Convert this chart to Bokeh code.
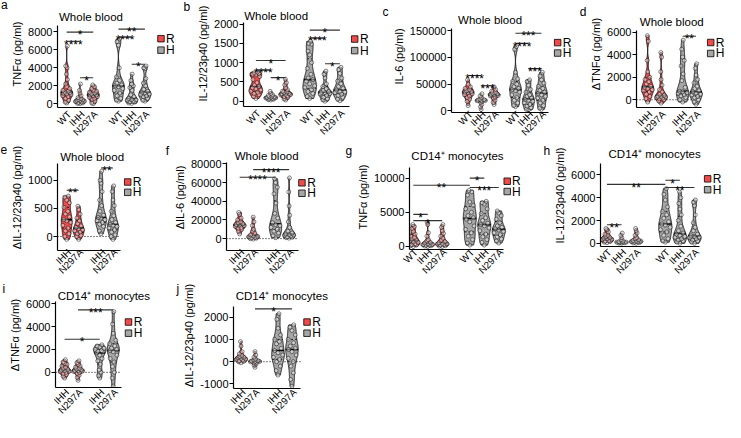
import numpy as np
from bokeh.plotting import figure
from bokeh.models import Range1d, FixedTicker, NumeralTickFormatter, CustomJSTickFormatter
from bokeh.layouts import row, column
from bokeh.core.properties import value
from bokeh.embed import file_html
from bokeh.resources import INLINE

# ------------------------------------------------------------------ data
groups = ["R", "H"]
wt_cats = ["WT", "IHH", "N297A", "WT", "IHH", "N297A"]
wt_grps = ["R", "R", "R", "H", "H", "H"]
delta_cats = ["IHH", "N297A", "IHH", "N297A"]
delta_grps = ["R", "R", "H", "H"]

# a: TNFa, whole blood
a_R_WT = [6400, 4200, 4000, 3300, 2700, 2200, 1900, 1700, 1500, 1400, 1300, 1250, 1200, 1100, 1000, 900, 800, 600, 400, 200, 100]
a_R_IHH = [2200, 1500, 1200, 900, 700, 600, 500, 450, 400, 350, 300, 250, 200, 150, 100, 50, 20]
a_R_N297A = [2100, 1900, 1700, 1500, 1400, 1300, 1200, 1100, 1000, 1000, 900, 800, 700, 600, 500, 300, 100, 20]
a_H_WT = [7200, 6900, 6500, 4000, 3000, 2600, 2300, 2100, 2000, 1900, 1700, 1500, 1200, 900, 600, 400, 300]
a_H_IHH = [3300, 2600, 2200, 2000, 1800, 1500, 1000, 800, 600, 500, 450, 400, 300, 250, 200, 100, 50]
a_H_N297A = [4200, 4000, 3900, 2800, 2300, 2000, 1600, 1400, 1300, 1200, 1100, 1000, 900, 800, 600, 400, 300]
a_ticks = [0, 2000, 4000, 6000, 8000]
a_sig = [(0, 2, 7950, "*"), (0, 1, 6940, "****"), (1, 2, 2890, "*"),
         (3, 5, 8285, "**"), (3, 4, 7400, "****"), (4, 5, 4400, "*")]

# b: IL-12/23p40, whole blood
b_R_WT = [755, 740, 720, 700, 680, 640, 560, 480, 420, 380, 350, 320, 290, 260, 230, 200, 170, 120, 70]
b_R_IHH = [255, 200, 170, 150, 130, 120, 110, 100, 95, 90, 80, 70, 60, 50, 40, 30]
b_R_N297A = [570, 480, 420, 350, 300, 260, 240, 220, 200, 190, 180, 170, 160, 140, 120, 100, 60, 30]
b_H_WT = [1555, 1500, 1480, 1300, 1200, 1000, 850, 700, 600, 560, 520, 450, 400, 350, 300, 250, 200, 120, 70]
b_H_IHH = [780, 700, 600, 450, 380, 320, 280, 250, 230, 220, 200, 180, 150, 100, 60, 30, 0]
b_H_N297A = [880, 820, 720, 600, 520, 450, 380, 330, 290, 260, 240, 220, 180, 150, 100, 50, 10]
b_ticks = [0, 500, 1000, 1500, 2000]
b_sig = [(0, 2, 1055, "*"), (0, 1, 805, "****"), (1, 2, 612, "*"),
         (3, 5, 1845, "*"), (3, 4, 1637, "****"), (4, 5, 970, "*")]

# c: IL-6, whole blood
c_R_WT = [58000, 50000, 45000, 42000, 40000, 38000, 36000, 35000, 34000, 32000, 30000, 28000, 25000, 22000, 18000, 10000]
c_R_IHH = [32000, 28000, 25000, 22000, 21000, 20500, 20000, 19500, 19000, 18000, 16000, 12000, 8000, 3000]
c_R_N297A = [45000, 40000, 37000, 35000, 33000, 32000, 31000, 30000, 29000, 28000, 26000, 24000, 20000, 16000, 12000]
c_H_WT = [120000, 115000, 72000, 60000, 55000, 50000, 45000, 42000, 40000, 38000, 35000, 30000, 25000, 20000, 15000, 10000, 8000]
c_H_IHH = [58000, 55000, 48000, 40000, 35000, 30000, 27000, 24000, 22000, 20000, 18000, 15000, 12000, 9000, 6000, 3000, 2000]
c_H_N297A = [72000, 65000, 58000, 52000, 46000, 42000, 38000, 35000, 33000, 30000, 27000, 24000, 20000, 15000, 10000, 5000, 3000]
c_ticks = [0, 50000, 100000, 150000]
c_sig = [(0, 1, 66000, "****"), (1, 2, 47000, "***"),
         (3, 5, 145000, "***"), (3, 4, 126000, "****"), (4, 5, 79000, "***")]

# d: delta TNFa, whole blood
d_R_IHH = [5700, 5200, 3500, 2500, 2000, 1800, 1600, 1400, 1200, 1100, 1000, 900, 800, 700, 500, 300, 100, -200]
d_R_N297A = [4200, 3800, 2500, 1800, 1300, 900, 700, 500, 400, 320, 300, 250, 200, 150, 100, 0, -100, -300]
d_H_IHH = [5300, 4500, 3800, 3500, 3000, 2300, 1700, 1100, 750, 700, 650, 550, 450, 350, 200, 0, -200]
d_H_N297A = [3200, 2800, 2200, 1800, 1500, 1200, 1000, 800, 700, 600, 500, 400, 300, 200, 0, -200, -400]
d_ticks = [0, 2000, 4000, 6000]
d_sig = [(2, 3, 5650, "**")]

# e: delta IL-12/23p40, whole blood
e_R_IHH = [720, 700, 650, 600, 520, 450, 400, 350, 300, 280, 250, 200, 150, 100, 50, 0, -50]
e_R_N297A = [540, 480, 400, 330, 280, 230, 190, 160, 140, 120, 100, 80, 50, 20, 0, -50]
e_H_IHH = [1160, 1000, 950, 800, 650, 550, 450, 380, 340, 330, 300, 280, 250, 220, 180, 100, 50]
e_H_N297A = [900, 800, 650, 550, 450, 370, 300, 250, 220, 200, 180, 150, 120, 80, 30, 0, -50]
e_ticks = [0, 500, 1000]
e_sig = [(0, 1, 824, "**"), (2, 3, 1220, "**")]

# f: delta IL-6, whole blood
f_R_IHH = [28000, 26000, 22000, 20000, 18000, 17000, 16000, 15000, 14500, 14000, 13000, 12000, 11000, 10000, 8000, 5000]
f_R_N297A = [23000, 18000, 14000, 10000, 8000, 6000, 4000, 3000, 2500, 2000, 1500, 1000, 500, 0, -500]
f_H_IHH = [64000, 60000, 55000, 48000, 38000, 27000, 22000, 17000, 15000, 14000, 12000, 10000, 8000, 6000, 3000, 1000]
f_H_N297A = [65000, 50000, 35000, 25000, 18000, 12000, 8000, 6000, 5000, 4500, 4000, 3500, 3000, 2000, 1500, 1000, 500]
f_ticks = [0, 20000, 40000, 60000, 80000]
f_sig = [(0, 2, 65800, "****"), (1, 3, 73900, "****")]

# g: TNFa, CD14+ monocytes
g_R_WT = [3200, 2900, 2600, 2200, 1800, 1500, 1300, 1100, 950, 800, 700, 600, 500, 400, 300, 200, 100, 0]
g_R_IHH = [3550, 3200, 2000, 1500, 1000, 800, 600, 500, 400, 320, 250, 200, 150, 100, 50, 0]
g_R_N297A = [3200, 2800, 2300, 1900, 1500, 1200, 900, 700, 550, 450, 400, 350, 300, 200, 100, 50, 0]
g_H_WT = [8200, 8000, 7500, 6500, 6000, 5500, 5000, 4500, 4200, 4000, 3600, 3000, 2500, 2000, 1500, 1000, 500, 200]
g_H_IHH = [6600, 6400, 6200, 5500, 4800, 4200, 3800, 3400, 3200, 3000, 2700, 2300, 1800, 1400, 1000, 600, 200]
g_H_N297A = [5200, 4900, 4500, 4000, 3500, 3000, 2800, 2600, 2400, 2200, 2000, 1700, 1400, 1100, 800, 500]
g_ticks = [0, 5000, 10000]
g_sig = [(0, 3, 8950, "**"), (3, 4, 10000, "*"), (3, 5, 8630, "***"),
         (0, 1, 4700, "*"), (0, 2, 3780, "*")]

# h: IL-12/23p40, CD14+ monocytes
h_R_WT = [1300, 1200, 1000, 800, 700, 600, 500, 450, 400, 350, 300, 250, 200, 150, 100, 50]
h_R_IHH = [900, 700, 500, 300, 200, 150, 120, 100, 90, 80, 60, 40, 20, 0]
h_R_N297A = [1300, 1100, 900, 700, 500, 400, 300, 250, 200, 180, 150, 120, 100, 60, 30, 0]
h_H_WT = [4800, 4300, 3800, 3200, 2800, 2500, 2200, 1900, 1700, 1600, 1400, 1200, 1000, 700, 400, 200, 100]
h_H_IHH = [4500, 4000, 3500, 3000, 2500, 2000, 1500, 1100, 900, 800, 700, 600, 500, 400, 300, 200, 100, 0]
h_H_N297A = [3800, 3600, 3300, 2500, 1800, 1400, 1100, 800, 650, 600, 550, 500, 400, 300, 200, 100, 0]
h_ticks = [0, 2000, 4000, 6000]
h_sig = [(0, 3, 5170, "**"), (3, 4, 5530, "*"), (3, 5, 4900, "**"), (0, 1, 1630, "**")]

# i: delta TNFa, CD14+ monocytes
i_R_IHH = [1100, 900, 800, 700, 550, 450, 350, 250, 200, 150, 100, 50, 0, -100, -200, -350, -500]
i_R_N297A = [1000, 850, 700, 550, 450, 350, 280, 220, 180, 150, 100, 50, 0, -100, -250, -450, -700]
i_H_IHH = [2400, 2300, 2200, 2100, 2000, 1900, 1850, 1800, 1700, 1500, 1200, 1000, 700, 200, 0, -300, -500]
i_H_N297A = [5300, 4200, 3400, 2800, 2500, 2300, 2100, 2000, 1900, 1800, 1500, 1200, 900, 500, 0, -500, -1200]
i_ticks = [0, 2000, 4000, 6000]
i_sig = [(0, 2, 2890, "*"), (1, 3, 5450, "***")]

# j: delta IL-12/23p40, CD14+ monocytes
j_R_IHH = [900, 700, 450, 350, 280, 230, 200, 180, 150, 120, 100, 80, 50, 20, 0, -50]
j_R_N297A = [450, 300, 200, 120, 80, 50, 30, 20, 10, 0, -20, -50, -100, -150, -250]
j_H_IHH = [2150, 1900, 1500, 1200, 1000, 900, 800, 600, 500, 400, 300, 200, 100, 0, -200, -400, -600]
j_H_N297A = [1650, 1550, 1400, 1200, 1000, 850, 700, 600, 550, 450, 300, 150, 0, -200, -500, -800, -1100]
j_ticks = [-1000, 0, 1000, 2000]
j_sig = [(1, 3, 2370, "*")]

title_wb = "Whole blood"
title_mono = "CD14\u207a monocytes"

# ------------------------------------------------------------------ layout (reference pixel geometry)
SX = 725 / 741
SY = 422 / 438
FONT = "Liberation Sans"
COLORS = {"R": "#EF4B4B", "H": "#A6A6A6"}
R1, R2, R3 = (0, 149), (149, 292.5), (292.5, 438)
LABDX = 3         # category label end sits this far right of the category (ref px)

LAYOUT = {
    "a": dict(box=(0, 185) + R1, yax=52, xax=111.7, cal=(108.3, 0, 32.7, 8000), ytop=26,
              x0=62, dx=14.2, pos=[0, 1, 2, 3.9, 4.9, 5.9], xend=153,
              letter=(0.5, 6.7, 6.8), title=(88, 17), legend=(163, 40, 52)),
    "b": dict(box=(185, 390) + R1, yax=248.3, xax=110, cal=(104.5, 0, 24.5, 2000), ytop=23,
              x0=261, dx=15.2, pos=[0, 1, 2, 3.62, 4.65, 5.65], xend=356.7,
              letter=(187, 9, 6.8), title=(281.7, 16), legend=(362, 40, 52)),
    "c": dict(box=(390, 590) + R1, yax=451.7, xax=118.7, cal=(116.7, 0, 31.7, 150000), ytop=29.3,
              x0=470, dx=14.2, pos=[0, 1, 2, 3.65, 4.65, 5.65], xend=558,
              letter=(390.5, 15, 6.2), title=(494, 20.7), legend=(568, 44.5, 55.5)),
    "d": dict(box=(590, 741) + R1, yax=645, xax=111.7, cal=(104, 0, 33.3, 6000), ytop=31,
              x0=657, dx=14.5, pos=[0, 1, 2.6, 3.6], xend=715,
              letter=(592, 16.7, 6.8), title=(683, 22.7), legend=(725, 44, 55.5)),
    "e": dict(box=(0, 168) + R2, yax=48.3, xax=262.3, cal=(247.7, 0, 187.7, 1000), ytop=170,
              x0=58.3, dx=13.4, pos=[0, 1, 2.86, 3.86], xend=118.3,
              letter=(0, 156, 6.8), title=(86.7, 163.3), legend=(126.5, 189.5, 200.5)),
    "f": dict(box=(168, 352) + R2, yax=228.3, xax=261.7, cal=(249, 0, 170, 80000), ytop=168.3,
              x0=241.7, dx=14.2, pos=[0, 1, 2.65, 3.65], xend=303.3,
              letter=(169, 158, 3.6), title=(270, 161.7), legend=(307, 190, 201)),
    "g": dict(box=(352, 552) + R2, yax=402.3, xax=260, cal=(257.3, 0, 185, 10000), ytop=173.3,
              x0=407, dx=16.5, pos=[0, 1, 2, 3.9, 4.9, 5.9], xend=510,
              letter=(352.5, 158.5, 6.8), title=(457.3, 161.7), legend=(514, 188.3, 199.2)),
    "h": dict(box=(552, 741) + R2, yax=608.3, xax=257.7, cal=(254, 0, 181.7, 6000), ytop=170,
              x0=615, dx=15.5, pos=[0, 1, 2, 4, 5, 6], xend=713.3,
              letter=(555, 158, 6.8), title=(665.7, 160), legend=(722, 185.8, 197.3)),
    "i": dict(box=(0, 175) + R3, yax=51.7, xax=403.3, cal=(387.7, 0, 315, 6000), ytop=313.3,
              x0=61.7, dx=14.3, pos=[0, 1, 2.6, 3.6], xend=121.7,
              letter=(2, 301.5, 2.9), title=(103.3, 307.3), legend=(129.3, 334.5, 346.3)),
    "j": dict(box=(175, 400) + R3, yax=231.7, xax=405, cal=(329.3, 2000, 400, -1000), ytop=318.3,
              x0=240, dx=14.8, pos=[0, 1, 2.65, 3.65], xend=303.3,
              letter=(180, 301.5, 2.9), title=(283.3, 306.7), legend=(310, 334.5, 346.3)),
}


def ex(r):
    return round(r * SX)


def ey(r):
    return round(r * SY)


def bare_fig(W, H, xr, yr):
    f = figure(width=W, height=H, x_range=xr, y_range=yr, output_backend="svg",
               toolbar_location=None, tools="", x_axis_location=None, y_axis_location=None,
               min_border_left=0, min_border_right=0, min_border_top=0, min_border_bottom=0)
    f.outline_line_color = None
    f.grid.visible = False
    f.background_fill_color = "white"
    f.border_fill_color = "white"
    return f


def txt(fig, x, y, t, size, **kw):
    fig.text(x=x, y=y, text=t, text_font=value(FONT), text_font_size=value(size),
             text_color="black", **kw)


def violin_shape(vals, pos, w=0.45, bwf=0.75, n=120):
    v = np.sort(np.asarray(vals, float))
    lo, hi = v[0], v[-1]
    s = v.std(ddof=1)
    q1, q3 = np.percentile(v, [25, 75])
    sig = min(s, (q3 - q1) / 1.34) if q3 > q1 else s
    h = max(bwf * 0.9 * sig * len(v) ** -0.2, (hi - lo) * 0.03)
    ys = np.linspace(lo, hi, n)
    d = np.exp(-0.5 * ((ys[:, None] - v[None, :]) / h) ** 2).sum(1)
    half = w * d / d.max()
    xs = np.concatenate([pos - half, (pos + half)[::-1]])
    yy = np.concatenate([ys, ys[::-1]])
    return xs, yy, ys, half


def make_panel(key, letter, cats, grps, series, ticks, sig, ylabel, title, zero=False):
    L = LAYOUT[key]
    bl, br, bt, bb = L["box"]
    lx, ly, lw = L["letter"]
    sl = lx + lw + 1.0             # right edge of the strip that holds the panel letter
    yA, vA, yB, vB = L["cal"]
    kpx = (yA - yB) / (vB - vA)
    x0, dx = L["x0"], L["dx"]
    pos = L["pos"]

    def X(rx):
        return (rx - x0) / dx

    def Y(ry):
        return vA + (yA - ry) / kpx

    H = ey(bb) - ey(bt)
    # ---- left strip: panel letter
    ls = bare_fig(ex(sl) - ex(bl), H,
                  Range1d(ex(bl) / SX, ex(sl) / SX), Range1d(-ey(bb) / SY, -ey(bt) / SY))
    txt(ls, [lx], [-ly], [letter], "12px", text_align="left", text_baseline="alphabetic")

    # ---- main plot
    fb = ey(L["xax"]) - ey(bt)
    W = ex(br) - ex(sl)
    lb = ex(L["yax"]) - ex(sl)
    xs, xe = X(ex(L["yax"]) / SX), X(ex(br) / SX)
    ys, ye = Y(ey(L["xax"]) / SY), Y(ey(bt) / SY)
    p = figure(width=W, height=H, x_range=Range1d(xs, xe), y_range=Range1d(ys, ye),
               output_backend="svg", toolbar_location=None, tools="",
               min_border_left=lb, min_border_right=0, min_border_top=0, min_border_bottom=H - fb)
    p.outline_line_color = None
    p.xgrid.visible = False
    p.ygrid.visible = False
    p.background_fill_color = "white"
    p.border_fill_color = "white"

    ya = p.yaxis[0]
    ya.ticker = FixedTicker(ticks=ticks)
    ya.formatter = NumeralTickFormatter(format="0")
    ya.bounds = (ys, Y(L["ytop"]))
    ya.major_tick_out = 4
    ya.major_tick_in = 0
    ya.minor_tick_out = 0
    ya.minor_tick_in = 0
    ya.major_label_standoff = 1
    ya.major_label_text_font = FONT
    ya.major_label_text_font_size = "11px"
    ya.major_label_text_color = "black"
    ya.axis_line_width = 1.2
    ya.major_tick_line_width = 1.2
    ya.axis_line_color = "black"
    ya.axis_label = ylabel
    ya.axis_label_text_font = FONT
    ya.axis_label_text_font_size = "11px"
    ya.axis_label_text_font_style = "normal"
    ya.axis_label_text_color = "black"
    ya.axis_label_standoff = 2

    # x axis: rotated category names as the axis' own tick labels
    xa = p.xaxis[0]
    xa.ticker = FixedTicker(ticks=[xp + LABDX / dx for xp in pos])
    xa.formatter = CustomJSTickFormatter(args=dict(names=list(cats)), code="return names[index];")
    xa.bounds = (xs, X(L["xend"]))
    xa.major_label_orientation = np.pi / 4
    xa.major_label_text_font = FONT
    xa.major_label_text_font_size = "9.8px"
    xa.major_label_text_color = "black"
    avail = H - fb
    xa.major_label_standoff = int(max(0, min(5, avail - 30)))
    xa.major_tick_out = 0
    xa.major_tick_in = 0
    xa.minor_tick_out = 0
    xa.minor_tick_in = 0
    xa.axis_line_width = 1.2
    xa.axis_line_color = "black"

    if zero:
        p.segment(x0=[xs], y0=[0], x1=[X(L["xend"])], y1=[0], line_color="black",
                  line_width=1, line_dash="1 2")

    pattern = [0.0, -0.55, 0.55, -0.28, 0.28, -0.75, 0.75]
    for vals, g, xp in zip(series, grps, pos):
        vx, vy, grid, half = violin_shape(vals, xp)
        p.patch(vx, vy, fill_color=COLORS[g], line_color="black", line_width=0.8)
        q1, med, q3 = np.percentile(vals, [25, 50, 75])
        for q, lw_, dash in ((q1, 0.8, "2 2"), (q3, 0.8, "2 2"), (med, 1.6, "solid")):
            hw = np.interp(q, grid, half)
            p.segment(x0=[xp - hw], y0=[q], x1=[xp + hw], y1=[q], line_color="black",
                      line_width=lw_, line_dash=dash)
        sv = np.sort(np.asarray(vals, float))
        px = [xp + pattern[r % len(pattern)] * np.interp(v, grid, half) for r, v in enumerate(sv)]
        p.scatter(px, sv, size=4, marker="circle", fill_color="white", fill_alpha=0.45,
                  line_color="#1a1a1a", line_width=0.55)

    # significance bars and stars
    for (i, j, yv, lab) in sig:
        p.segment(x0=[pos[i]], y0=[yv], x1=[pos[j]], y1=[yv], line_color="#333333", line_width=1.1)
        txt(p, [(pos[i] + pos[j]) / 2], [yv - 3.4 / kpx], [lab], "12px",
            text_align="center", text_baseline="alphabetic")

    # legend
    sqx, ry, hy = L["legend"]
    p.scatter([X(sqx), X(sqx)], [Y(ry), Y(hy)], marker="square", size=6.5,
              fill_color=[COLORS[g] for g in groups], line_color="black", line_width=0.8)
    txt(p, [X(sqx + 5.5)] * 2, [Y(ry), Y(hy)], groups, "12px", text_align="left",
        text_baseline="middle")

    # panel title
    tx, ty = L["title"]
    txt(p, [X(tx)], [Y(ty)], [title], "11.5px", text_align="center", text_baseline="middle")

    return row(ls, p)


pa = make_panel("a", "a", wt_cats, wt_grps, [a_R_WT, a_R_IHH, a_R_N297A, a_H_WT, a_H_IHH, a_H_N297A],
                a_ticks, a_sig, "TNF\u03b1 (pg/ml)", title_wb)
pb = make_panel("b", "b", wt_cats, wt_grps, [b_R_WT, b_R_IHH, b_R_N297A, b_H_WT, b_H_IHH, b_H_N297A],
                b_ticks, b_sig, "IL-12/23p40 (pg/ml)", title_wb)
pc = make_panel("c", "c", wt_cats, wt_grps, [c_R_WT, c_R_IHH, c_R_N297A, c_H_WT, c_H_IHH, c_H_N297A],
                c_ticks, c_sig, "IL-6 (pg/ml)", title_wb)
pd_ = make_panel("d", "d", delta_cats, delta_grps, [d_R_IHH, d_R_N297A, d_H_IHH, d_H_N297A],
                 d_ticks, d_sig, "\u0394TNF\u03b1 (pg/ml)", title_wb, zero=True)
pe = make_panel("e", "e", delta_cats, delta_grps, [e_R_IHH, e_R_N297A, e_H_IHH, e_H_N297A],
                e_ticks, e_sig, "\u0394IL-12/23p40 (pg/ml)", title_wb, zero=True)
pf = make_panel("f", "f", delta_cats, delta_grps, [f_R_IHH, f_R_N297A, f_H_IHH, f_H_N297A],
                f_ticks, f_sig, "\u0394IL-6 (pg/ml)", title_wb, zero=True)
pg = make_panel("g", "g", wt_cats, wt_grps, [g_R_WT, g_R_IHH, g_R_N297A, g_H_WT, g_H_IHH, g_H_N297A],
                g_ticks, g_sig, "TNF\u03b1 (pg/ml)", title_mono)
ph = make_panel("h", "h", wt_cats, wt_grps, [h_R_WT, h_R_IHH, h_R_N297A, h_H_WT, h_H_IHH, h_H_N297A],
                h_ticks, h_sig, "IL-12/23p40 (pg/ml)", title_mono)
pi_ = make_panel("i", "i", delta_cats, delta_grps, [i_R_IHH, i_R_N297A, i_H_IHH, i_H_N297A],
                 i_ticks, i_sig, "\u0394TNF\u03b1 (pg/ml)", title_mono, zero=True)
pj = make_panel("j", "j", delta_cats, delta_grps, [j_R_IHH, j_R_N297A, j_H_IHH, j_H_N297A],
                j_ticks, j_sig, "\u0394IL-12/23p40 (pg/ml)", title_mono, zero=True)

layout = column(row(pa, pb, pc, pd_), row(pe, pf, pg, ph), row(pi_, pj))
open("out.html", "w").write(file_html(layout, INLINE))
